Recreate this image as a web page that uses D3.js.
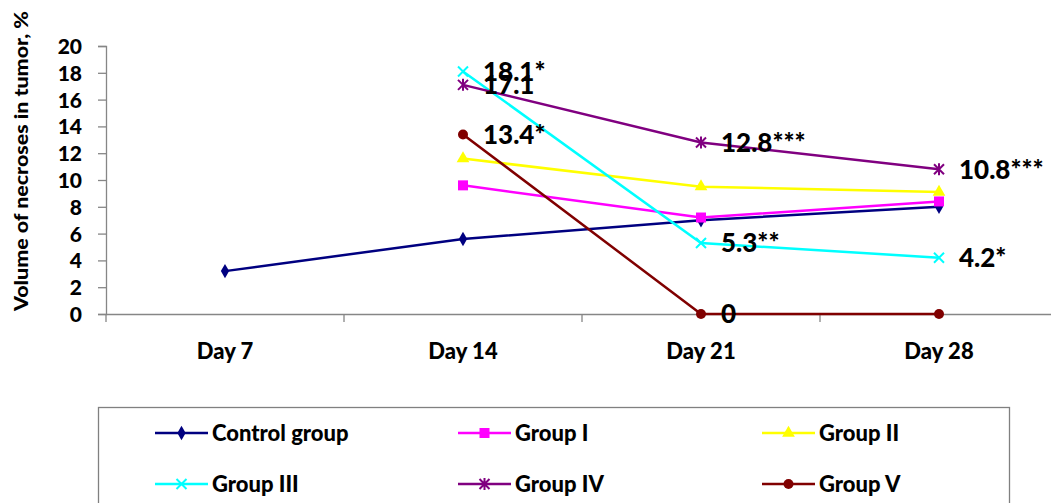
<!DOCTYPE html>
<html>
<head>
<meta charset="utf-8">
<script src="https://cdn.jsdelivr.net/npm/d3@7/dist/d3.min.js"></script>
<style>
  html, body { margin: 0; padding: 0; background: #fff; }
  svg { display: block; }
  text { font-family: Lato, "Open Sans", sans-serif; font-weight: 900; fill: #000; }
</style>
</head>
<body>
<svg id="chart" width="1051" height="503"></svg>
<script>
// Time points and the y-axis ticks
const days = ["Day 7", "Day 14", "Day 21", "Day 28"];
const yTicks = [0, 2, 4, 6, 8, 10, 12, 14, 16, 18, 20];

// Volume of necroses (%) per group; null where the group was not measured
const controlGroup = [3.2, 5.6, 7.0, 8.0];
const group1 = [null, 9.6, 7.2, 8.4];
const group2 = [null, 11.6, 9.5, 9.1];
const group3 = [null, 18.1, 5.3, 4.2];
const group4 = [null, 17.1, 12.8, 10.8];
const group5 = [null, 13.4, 0, 0];

// Value annotations with significance marks
const labels3 = [null, "18.1*", "5.3**", "4.2*"];
const labels4 = [null, "17.1", "12.8***", "10.8***"];
const labels5 = [null, "13.4*", "0", null];

const series = [
  { name: "Control group", values: controlGroup, color: "#000080", marker: "diamond" },
  { name: "Group I", values: group1, color: "#FF00FF", marker: "square" },
  { name: "Group II", values: group2, color: "#FFFF00", marker: "triangle" },
  { name: "Group III", values: group3, color: "#00FFFF", marker: "cross", labels: labels3 },
  { name: "Group IV", values: group4, color: "#800080", marker: "star", labels: labels4 },
  { name: "Group V", values: group5, color: "#800000", marker: "circle", labels: labels5 }
];

const svg = d3.select("#chart");
const plotLeft = 106, plotRight = 1058, plotTop = 46, plotBottom = 314;

const x = d3.scaleBand().domain(days).range([plotLeft, plotRight]).padding(0);
const y = d3.scaleLinear().domain([0, 20]).range([plotBottom, plotTop]);
const cx = d => x(d) + x.bandwidth() / 2;

const axisColor = "#868686";

// Y axis
const yAxis = svg.append("g")
  .attr("transform", `translate(${plotLeft},0)`)
  .call(d3.axisLeft(y).tickValues(yTicks).tickSize(8).tickPadding(16).tickFormat(d3.format("d")));
yAxis.select(".domain").attr("stroke", axisColor).attr("stroke-width", 1.3);
yAxis.selectAll(".tick line").attr("stroke", axisColor).attr("stroke-width", 1.3);
yAxis.selectAll(".tick text").style("font-size", "21px").attr("dy", "0.36em");

// X axis: category labels centred in bands, tick marks on band boundaries
const xAxis = svg.append("g")
  .attr("transform", `translate(0,${plotBottom})`)
  .call(d3.axisBottom(x).tickSize(0).tickPadding(29));
xAxis.select(".domain").attr("stroke", axisColor).attr("stroke-width", 1.3);
xAxis.selectAll(".tick text").style("font-size", "22px");
const boundaries = days.map(d => x(d)).concat([x(days[days.length - 1]) + x.bandwidth()]);
xAxis.selectAll(".bound").data(boundaries).enter().append("line")
  .attr("class", "bound")
  .attr("x1", d => d).attr("x2", d => d)
  .attr("y1", 0).attr("y2", 8)
  .attr("stroke", axisColor).attr("stroke-width", 1.3);

// Y axis title
svg.append("text")
  .attr("transform", `translate(28,161) rotate(-90)`)
  .attr("text-anchor", "middle")
  .style("font-size", "19px")
  .attr("textLength", 300)
  .attr("lengthAdjust", "spacingAndGlyphs")
  .text("Volume of necroses in tumor, %");

// Marker shapes
function drawMarker(g, type, color, px, py) {
  if (type === "diamond") {
    g.append("path").attr("d", d3.symbol(d3.symbolDiamond, 60)()).attr("transform", `translate(${px},${py})`).attr("fill", color);
  } else if (type === "square") {
    g.append("rect").attr("x", px - 5).attr("y", py - 5).attr("width", 10).attr("height", 10).attr("fill", color);
  } else if (type === "triangle") {
    g.append("path").attr("d", d3.symbol(d3.symbolTriangle, 70)()).attr("transform", `translate(${px},${py})`).attr("fill", color);
  } else if (type === "circle") {
    g.append("circle").attr("cx", px).attr("cy", py).attr("r", 5).attr("fill", color);
  } else if (type === "cross") {
    g.append("path").attr("d", `M${px - 5},${py - 5}L${px + 5},${py + 5}M${px - 5},${py + 5}L${px + 5},${py - 5}`)
      .attr("stroke", color).attr("stroke-width", 2);
  } else if (type === "star") {
    g.append("path").attr("d", `M${px - 5},${py - 5}L${px + 5},${py + 5}M${px - 5},${py + 5}L${px + 5},${py - 5}M${px},${py - 6}L${px},${py + 6}`)
      .attr("stroke", color).attr("stroke-width", 2);
  }
}

// Lines and markers
const line = d3.line()
  .defined(d => d.v !== null)
  .x(d => cx(d.day))
  .y(d => y(d.v));

series.forEach(s => {
  const pts = days.map((day, i) => ({ day, v: s.values[i] }));
  const g = svg.append("g");
  g.append("path").datum(pts).attr("d", line)
    .attr("fill", "none").attr("stroke", s.color).attr("stroke-width", 2.5);
  pts.filter(p => p.v !== null).forEach(p => drawMarker(g, s.marker, s.color, cx(p.day), y(p.v)));
});

// Value labels
series.filter(s => s.labels).forEach(s => {
  days.forEach((day, i) => {
    const lbl = s.labels[i];
    if (lbl === null || s.values[i] === null) return;
    svg.append("text")
      .attr("x", cx(day) + 20)
      .attr("y", y(s.values[i]))
      .attr("dy", "0.36em")
      .style("font-size", "26px")
      .text(lbl);
  });
});

// Legend
const legend = svg.append("g");
legend.append("rect")
  .attr("x", 98.5).attr("y", 407.5).attr("width", 911).attr("height", 110)
  .attr("fill", "none").attr("stroke", "#808080").attr("stroke-width", 1.3);
const colX = [155, 458, 762];
const rowY = [433, 484];
series.forEach((s, i) => {
  const lx = colX[i % 3], ly = rowY[Math.floor(i / 3)];
  legend.append("line").attr("x1", lx).attr("x2", lx + 53).attr("y1", ly).attr("y2", ly)
    .attr("stroke", s.color).attr("stroke-width", 2.5);
  drawMarker(legend, s.marker, s.color, lx + 26.5, ly);
  legend.append("text").attr("x", lx + 57).attr("y", ly).attr("dy", "0.36em")
    .style("font-size", "22px").text(s.name);
});
</script>
</body>
</html>
